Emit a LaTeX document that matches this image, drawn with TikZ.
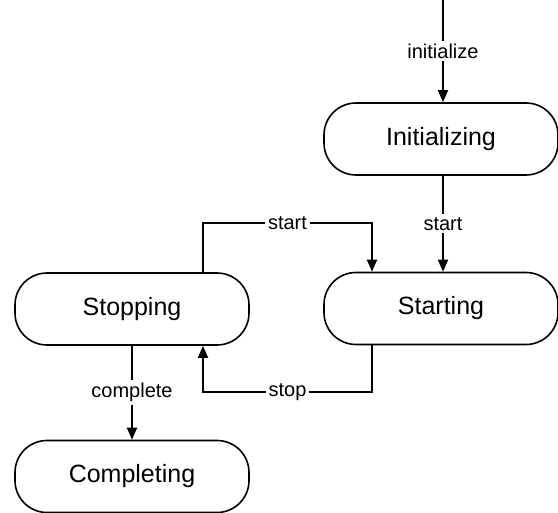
\documentclass[tikz,border=0pt]{standalone}
\usepackage{fontspec}
\setmainfont{Liberation Sans}
\usepackage{tikz}
\usetikzlibrary{arrows.meta}
\tikzstyle{state}=[rectangle, draw=black, line width=0.8pt, rounded corners=16pt,
        minimum width=117pt, minimum height=36pt, text centered, font=\fontsize{12.5}{14}\selectfont]
\tikzstyle{trans}=[draw=black, line width=0.9pt, -{Triangle[length=6pt,width=5pt]}]
\tikzstyle{lbl}=[fill=white, inner sep=1.5pt, font=\fontsize{10}{12}\selectfont]

\begin{document}
\begin{tikzpicture}[x=0.5pt, y=-0.5pt]
\useasboundingbox (0,0) rectangle (558,513);
\node [state] (init) at (441,139) {Initializing};
\node [state] (starting) at (441,308.5) {Starting};
\node [state] (stopping) at (132,309) {Stopping};
\node [state] (completing) at (132,476.5) {Completing};
\coordinate (entry) at (443,0);
\draw [trans] (entry) -- node [lbl] {initialize} (entry |- init.north);
\draw [trans] (init.south -| entry) -- node [lbl] {start} (starting.north -| entry);
\draw [trans] ([xshift=35.5pt]stopping.north) |- ++(0,-49) -| node [lbl, pos=0.25] {start} ([xshift=-34.5pt]starting.north);
\draw [trans] ([xshift=-34.5pt]starting.south) |- ++(0,47) -| node [lbl, pos=0.25] {stop} ([xshift=35.5pt]stopping.south);
\draw [trans] (stopping.south) -- node [lbl] {complete} (completing.north);
\end{tikzpicture}
\end{document}
